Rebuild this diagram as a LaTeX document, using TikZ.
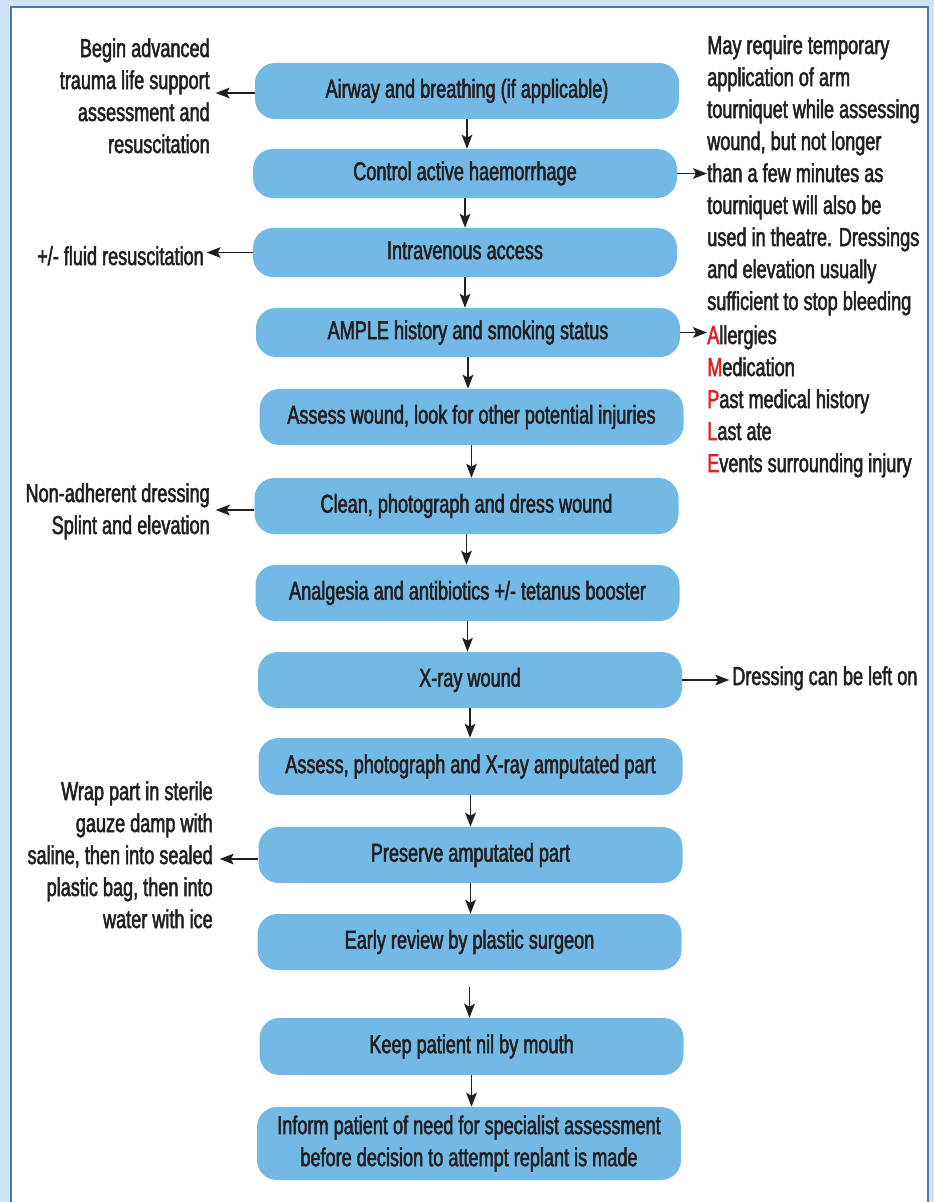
\documentclass[tikz,border=0pt]{standalone}
\usepackage{fontspec}
\usetikzlibrary{arrows.meta}
\newfontfamily\cf{Liberation Sans}[FakeStretch=0.70,FakeBold=2]
\definecolor{band}{RGB}{207,227,244}
\definecolor{frame}{RGB}{74,120,181}
\definecolor{boxblue}{RGB}{115,185,230}
\definecolor{txt}{RGB}{35,31,32}
\definecolor{amred}{RGB}{228,30,38}
\tikzset{
  every node/.style={font=\cf\fontsize{19.4pt}{24pt}\selectfont, text=txt},
  fbox/.style={fill=boxblue, rounded corners=15pt, minimum width=318pt, minimum height=42pt, inner sep=0pt, text height=14pt, text depth=4pt},
  fbox2/.style={fill=boxblue, rounded corners=15pt, minimum width=318pt, minimum height=54.75pt, inner sep=0pt, align=center},
  note/.style={inner sep=0pt},
  arr/.style={draw=txt, line width=1.1pt, -{Stealth[length=10.5pt,width=8pt,inset=2.2pt]}}
}
\begin{document}
\begin{tikzpicture}[x=0.75pt,y=-0.75pt]
\useasboundingbox (0,0) rectangle (934,1202);
\fill[band] (0,0) rectangle (934,1202);
\fill[white] (11,7.5) rectangle (927.5,1202);
\draw[frame, line width=1.5pt] (11,1203) -- (11,7.5) -- (927.5,7.5) -- (927.5,1203);

% main boxes
\node[fbox] (b1) at (467,91) {Airway and breathing (if applicable)};
\node[fbox, minimum height=36.75pt] (b2) at (465,173.5) {Control active haemorrhage};
\node[fbox, minimum height=36.75pt] (b3) at (465,252.5) {Intravenous access};
\node[fbox, minimum height=36.75pt] (b4) at (468,332.5) {AMPLE history and smoking status};
\node[fbox] (b5) at (471.5,417) {Assess wound, look for other potential injuries};
\node[fbox] (b6) at (466.5,506) {Clean, photograph and dress wound};
\node[fbox] (b7) at (467.5,593) {Analgesia and antibiotics +/- tetanus booster};
\node[fbox] (b8) at (470,680) {X-ray wound};
\node[fbox, minimum height=42.75pt] (b9) at (470.5,766.5) {Assess, photograph and X-ray amputated part};
\node[fbox] (b10) at (470.5,855) {Preserve amputated part};
\node[fbox] (b11) at (469.5,942) {Early review by plastic surgeon};
\node[fbox, minimum height=42.75pt] (b12) at (471.5,1046.5) {Keep patient nil by mouth};
\node[fbox2] (b13) at (469,1143.5) {Inform patient of need for specialist assessment\\before decision to attempt replant is made};

% side notes
\node[note, anchor=north east, align=right] (n1) at (210,38) {Begin advanced\\trauma life support\\assessment and\\resuscitation};
\node[note, anchor=base east] (n3) at (204,265) {+/- fluid resuscitation};
\node[note, anchor=north east, align=right] (n6) at (210,483) {Non-adherent dressing\\Splint and elevation};
\node[note, anchor=north east, align=right] (n10) at (213,781) {Wrap part in sterile\\gauze damp with\\saline, then into sealed\\plastic bag, then into\\water with ice};
\node[note, anchor=north west, align=left] (n2) at (707,35) {May require temporary\\application of arm\\tourniquet while assessing\\wound, but not longer\\than a few minutes as\\tourniquet will also be\\used in theatre. Dressings\\and elevation usually\\sufficient to stop bleeding};
\node[note, anchor=north west, align=left] (n4) at (707,325) {\textcolor{amred}{A}llergies\\\textcolor{amred}{M}edication\\\textcolor{amred}{P}ast medical history\\\textcolor{amred}{L}ast ate\\\textcolor{amred}{E}vents surrounding injury};
\node[note, anchor=base west] (n8) at (732,685) {Dressing can be left on};

% vertical connectors
\foreach \a/\b in {b1/b2,b2/b3,b3/b4,b4/b5,b5/b6,b6/b7,b7/b8,b8/b9,b9/b10,b10/b11,b12/b13}
  \draw[arr] (\a.south) -- (\a.south |- \b.north);
\draw[arr, shorten <=12.75pt] (b11.south) -- (b11.south |- b12.north);

% side connectors
\draw[arr, shorten >=2pt] (b1.west) ++(0,2) -- (213,93);
\draw[arr, shorten >=2pt] (b3.west) -- (b3.west -| n3.east);
\draw[arr, shorten >=2pt] (b6.west) ++(0,4) -- (213,510);
\draw[arr, shorten >=2pt] (b10.west) ++(0,4) -- (217,859);
\draw[arr] (b2.east) -- (b2.east -| n2.west);
\draw[arr] (b4.east) -- (b4.east -| n4.west);
\draw[arr, shorten >=2pt] (b8.east) -- (b8.east -| n8.west);
\end{tikzpicture}
\end{document}
